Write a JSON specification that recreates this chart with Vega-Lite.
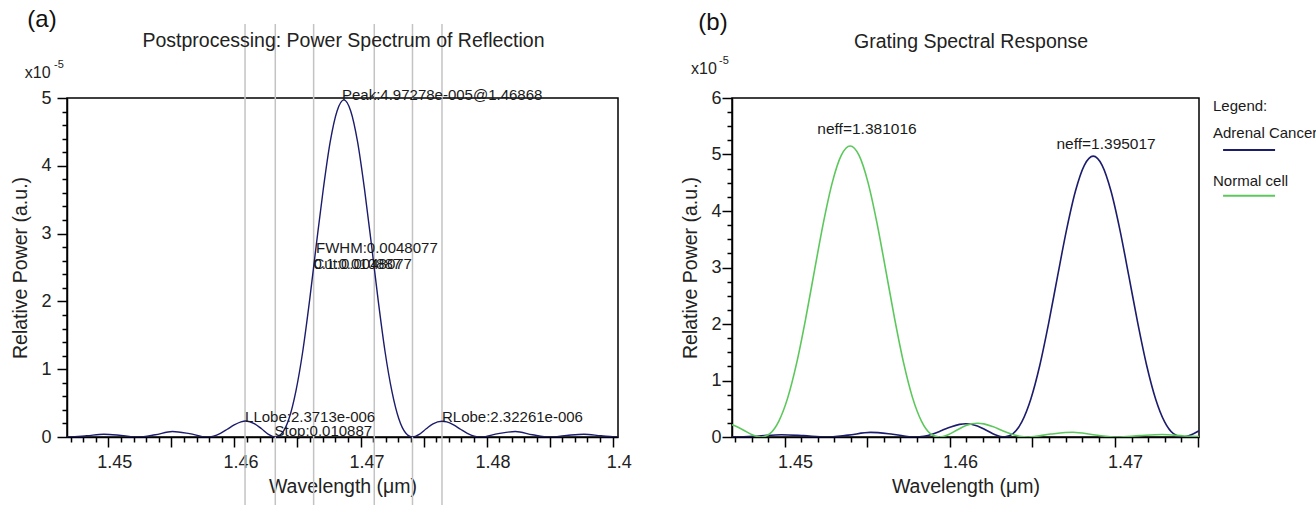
{
  "$schema": "https://vega.github.io/schema/vega-lite/v6.json",
  "background": "white",
  "padding": {"left": 10, "top": 7, "right": 0, "bottom": 0},
  "config": {
    "font": "Liberation Sans",
    "view": {"stroke": "#000000", "strokeWidth": 1.5},
    "axis": {"grid": false, "domainColor": "#000000", "domainWidth": 1.5, "tickColor": "#000000", "tickWidth": 1.5, "labelFont": "Liberation Sans", "labelFontSize": 18, "labelColor": "#222222", "titleFont": "Liberation Sans", "titleFontSize": 19.5, "titleFontWeight": "normal", "titleColor": "#222222", "labelOverlap": false, "labelFlush": false, "labelBound": false},
    "text": {"font": "Liberation Sans", "color": "#1a1a1a"}
  },
  "datasets": {
    "specA": [
      {"x":1.44583,"y":0.010},{"x":1.44692,"y":0},{"x":1.44828,"y":0.018},{"x":1.44964,"y":0.041},{"x":1.45100,"y":0.024},{"x":1.45236,"y":0},{"x":1.45372,"y":0.033},{"x":1.45508,"y":0.081},{"x":1.45644,"y":0.050},{"x":1.45780,"y":0},{"x":1.45834,"y":0.013},{"x":1.45889,"y":0.054},{"x":1.45943,"y":0.114},{"x":1.45998,"y":0.178},{"x":1.46052,"y":0.224},{"x":1.46090,"y":0.237},{"x":1.46161,"y":0.195},{"x":1.46215,"y":0.121},{"x":1.46270,"y":0.040},{"x":1.46324,"y":0},{"x":1.46378,"y":0.059},{"x":1.46433,"y":0.272},{"x":1.46487,"y":0.673},{"x":1.46542,"y":1.265},{"x":1.46596,"y":2.014},{"x":1.46650,"y":2.847},{"x":1.46705,"y":3.662},{"x":1.46759,"y":4.349},{"x":1.46814,"y":4.809},{"x":1.46868,"y":4.972},{"x":1.46922,"y":4.809},{"x":1.46977,"y":4.349},{"x":1.47031,"y":3.662},{"x":1.47086,"y":2.847},{"x":1.47140,"y":2.014},{"x":1.47194,"y":1.265},{"x":1.47249,"y":0.673},{"x":1.47303,"y":0.272},{"x":1.47358,"y":0.059},{"x":1.47412,"y":0},{"x":1.47466,"y":0.040},{"x":1.47521,"y":0.121},{"x":1.47575,"y":0.195},{"x":1.47646,"y":0.232},{"x":1.47684,"y":0.222},{"x":1.47738,"y":0.178},{"x":1.47793,"y":0.114},{"x":1.47847,"y":0.054},{"x":1.47902,"y":0.013},{"x":1.47956,"y":0},{"x":1.48092,"y":0.050},{"x":1.48228,"y":0.081},{"x":1.48364,"y":0.033},{"x":1.48500,"y":0},{"x":1.48636,"y":0.024},{"x":1.48772,"y":0.041},{"x":1.48908,"y":0.018},{"x":1.49044,"y":0},{"x":1.49153,"y":0.010}
    ],
    "markersA": [
      {"x":1.46084,"y":-1.02,"y2":6.09},{"x":1.46324,"y":-1.02,"y2":6.09},{"x":1.46628,"y":-1.02,"y2":6.09},{"x":1.47109,"y":-1.02,"y2":6.09},{"x":1.47412,"y":-1.02,"y2":6.09},{"x":1.47646,"y":-1.02,"y2":6.09}
    ],
    "annotA": [
      {"x":1.46853,"y":4.97,"label":"Peak:4.97278e-005@1.46868"},
      {"x":1.46647,"y":2.71,"label":"FWHM:0.0048077"},
      {"x":1.46627,"y":2.48,"label":"Cut:0.0048077"},
      {"x":1.46627,"y":2.48,"label":"0.1:0.010887"},
      {"x":1.46084,"y":0.22,"label":"LLobe:2.3713e-006"},
      {"x":1.46318,"y":0.015,"label":"Stop:0.010887"},
      {"x":1.47646,"y":0.22,"label":"RLobe:2.32261e-006"}
    ],
    "tagA": [{"x":1.44474,"y":6.15,"label":"(a)"}],
    "titleA": [{"x":1.46865,"y":5.84,"label":"Postprocessing: Power Spectrum of Reflection"}],
    "expBaseA": [{"x":1.4444,"y":5.37,"label":"x10"}],
    "expSupA": [{"x":1.44569,"y":5.49,"label":"-5"}],
    "specB": [
      {"x":1.44654,"y":0.003,"series":"Adrenal Cancer"},{"x":1.44708,"y":0,"series":"Adrenal Cancer"},{"x":1.44843,"y":0.018,"series":"Adrenal Cancer"},{"x":1.44978,"y":0.041,"series":"Adrenal Cancer"},{"x":1.45113,"y":0.024,"series":"Adrenal Cancer"},{"x":1.45248,"y":0,"series":"Adrenal Cancer"},{"x":1.45383,"y":0.033,"series":"Adrenal Cancer"},{"x":1.45518,"y":0.081,"series":"Adrenal Cancer"},{"x":1.45653,"y":0.050,"series":"Adrenal Cancer"},{"x":1.45788,"y":0,"series":"Adrenal Cancer"},{"x":1.45842,"y":0.013,"series":"Adrenal Cancer"},{"x":1.45896,"y":0.054,"series":"Adrenal Cancer"},{"x":1.45950,"y":0.114,"series":"Adrenal Cancer"},{"x":1.46004,"y":0.178,"series":"Adrenal Cancer"},{"x":1.46058,"y":0.224,"series":"Adrenal Cancer"},{"x":1.46096,"y":0.235,"series":"Adrenal Cancer"},{"x":1.46166,"y":0.195,"series":"Adrenal Cancer"},{"x":1.46220,"y":0.121,"series":"Adrenal Cancer"},{"x":1.46274,"y":0.040,"series":"Adrenal Cancer"},{"x":1.46328,"y":0,"series":"Adrenal Cancer"},{"x":1.46382,"y":0.059,"series":"Adrenal Cancer"},{"x":1.46436,"y":0.272,"series":"Adrenal Cancer"},{"x":1.46490,"y":0.673,"series":"Adrenal Cancer"},{"x":1.46544,"y":1.265,"series":"Adrenal Cancer"},{"x":1.46598,"y":2.014,"series":"Adrenal Cancer"},{"x":1.46652,"y":2.847,"series":"Adrenal Cancer"},{"x":1.46706,"y":3.662,"series":"Adrenal Cancer"},{"x":1.46760,"y":4.349,"series":"Adrenal Cancer"},{"x":1.46814,"y":4.809,"series":"Adrenal Cancer"},{"x":1.46868,"y":4.972,"series":"Adrenal Cancer"},{"x":1.46922,"y":4.809,"series":"Adrenal Cancer"},{"x":1.46976,"y":4.349,"series":"Adrenal Cancer"},{"x":1.47030,"y":3.662,"series":"Adrenal Cancer"},{"x":1.47084,"y":2.847,"series":"Adrenal Cancer"},{"x":1.47138,"y":2.014,"series":"Adrenal Cancer"},{"x":1.47192,"y":1.265,"series":"Adrenal Cancer"},{"x":1.47246,"y":0.673,"series":"Adrenal Cancer"},{"x":1.47300,"y":0.272,"series":"Adrenal Cancer"},{"x":1.47354,"y":0.059,"series":"Adrenal Cancer"},{"x":1.47408,"y":0,"series":"Adrenal Cancer"},{"x":1.47462,"y":0.040,"series":"Adrenal Cancer"},{"x":1.47516,"y":0.121,"series":"Adrenal Cancer"},{"x":1.47570,"y":0.195,"series":"Adrenal Cancer"},
      {"x":1.44666,"y":0.227,"series":"Normal cell"},{"x":1.44693,"y":0.202,"series":"Normal cell"},{"x":1.44747,"y":0.125,"series":"Normal cell"},{"x":1.44801,"y":0.041,"series":"Normal cell"},{"x":1.44855,"y":0,"series":"Normal cell"},{"x":1.44909,"y":0.061,"series":"Normal cell"},{"x":1.44963,"y":0.282,"series":"Normal cell"},{"x":1.45017,"y":0.697,"series":"Normal cell"},{"x":1.45071,"y":1.311,"series":"Normal cell"},{"x":1.45125,"y":2.087,"series":"Normal cell"},{"x":1.45179,"y":2.950,"series":"Normal cell"},{"x":1.45233,"y":3.795,"series":"Normal cell"},{"x":1.45287,"y":4.507,"series":"Normal cell"},{"x":1.45341,"y":4.983,"series":"Normal cell"},{"x":1.45395,"y":5.150,"series":"Normal cell"},{"x":1.45449,"y":4.983,"series":"Normal cell"},{"x":1.45503,"y":4.507,"series":"Normal cell"},{"x":1.45557,"y":3.795,"series":"Normal cell"},{"x":1.45611,"y":2.950,"series":"Normal cell"},{"x":1.45665,"y":2.087,"series":"Normal cell"},{"x":1.45719,"y":1.311,"series":"Normal cell"},{"x":1.45773,"y":0.697,"series":"Normal cell"},{"x":1.45827,"y":0.282,"series":"Normal cell"},{"x":1.45881,"y":0.061,"series":"Normal cell"},{"x":1.45935,"y":0,"series":"Normal cell"},{"x":1.45989,"y":0.041,"series":"Normal cell"},{"x":1.46043,"y":0.125,"series":"Normal cell"},{"x":1.46097,"y":0.202,"series":"Normal cell"},{"x":1.46167,"y":0.243,"series":"Normal cell"},{"x":1.46205,"y":0.232,"series":"Normal cell"},{"x":1.46259,"y":0.184,"series":"Normal cell"},{"x":1.46313,"y":0.118,"series":"Normal cell"},{"x":1.46367,"y":0.056,"series":"Normal cell"},{"x":1.46421,"y":0.014,"series":"Normal cell"},{"x":1.46475,"y":0,"series":"Normal cell"},{"x":1.46610,"y":0.052,"series":"Normal cell"},{"x":1.46745,"y":0.083,"series":"Normal cell"},{"x":1.46880,"y":0.035,"series":"Normal cell"},{"x":1.47015,"y":0,"series":"Normal cell"},{"x":1.47150,"y":0.025,"series":"Normal cell"},{"x":1.47285,"y":0.043,"series":"Normal cell"},{"x":1.47420,"y":0.019,"series":"Normal cell"},{"x":1.47555,"y":0,"series":"Normal cell"}
    ],
    "neffB": [
      {"x":1.45497,"y":5.45,"label":"neff=1.381016"},
      {"x":1.46946,"y":5.19,"label":"neff=1.395017"}
    ],
    "legTextB": [
      {"x":1.47594,"y":5.86,"label":"Legend:"},
      {"x":1.47594,"y":5.38,"label":"Adrenal Cancer"},
      {"x":1.47594,"y":4.53,"label":"Normal cell"}
    ],
    "legLineB": [
      {"x":1.47655,"x2":1.4797,"y":5.08,"series":"Adrenal Cancer"},
      {"x":1.47655,"x2":1.4797,"y":4.27,"series":"Normal cell"}
    ],
    "tagB": [{"x":1.44564,"y":7.33,"label":"(b)"}],
    "titleB": [{"x":1.46128,"y":6.99,"label":"Grating Spectral Response"}],
    "expBaseB": [{"x":1.44509,"y":6.51,"label":"x10"}],
    "expSupB": [{"x":1.446,"y":6.65,"label":"-5"}]
  },
  "bounds": "flush",
  "spacing": 114,
  "hconcat": [
    {
      "width": 551,
      "height": 339,
      "encoding": {
        "x": {"field": "x", "type": "quantitative",
          "scale": {"domain": [1.44672, 1.49042], "nice": false, "zero": false},
          "axis": {"title": "Wavelength (μm)",
            "values": [1.447,1.448,1.449,1.45,1.451,1.452,1.453,1.454,1.455,1.456,1.457,1.458,1.459,1.46,1.461,1.462,1.463,1.464,1.465,1.466,1.467,1.468,1.469,1.47,1.471,1.472,1.473,1.474,1.475,1.476,1.477,1.478,1.479,1.48,1.481,1.482,1.483,1.484,1.485,1.486,1.487,1.488,1.489,1.49],
            "labelExpr": "abs(datum.value*100 - round(datum.value*100)) < 0.01 ? (datum.value > 1.485 ? '1.4' : format(datum.value, '.2f')) : ''",
            "tickSize": {"condition": {"test": "abs(datum.value*200 - round(datum.value*200)) < 0.01", "value": 10}, "value": 5},
            "labelOffset": 6, "labelPadding": 6, "titlePadding": 6}},
        "y": {"field": "y", "type": "quantitative",
          "scale": {"domain": [0, 5], "nice": false},
          "axis": {"title": "Relative Power (a.u.)",
            "values": [0,0.2,0.4,0.6,0.8,1,1.2,1.4,1.6,1.8,2,2.2,2.4,2.6,2.8,3,3.2,3.4,3.6,3.8,4,4.2,4.4,4.6,4.8,5],
            "labelExpr": "abs(datum.value - round(datum.value)) < 0.01 ? format(datum.value, 'd') : ''",
            "tickSize": {"condition": {"test": "abs(datum.value - round(datum.value)) < 0.01", "value": 10}, "value": 5},
            "labelPadding": 6, "titlePadding": 10}}
      },
      "layer": [
        {"data": {"name": "markersA"}, "mark": {"type": "rule", "color": "#c3c3c3", "strokeWidth": 1.5, "clip": false}, "encoding": {"y2": {"field": "y2"}}},
        {"data": {"name": "specA"}, "mark": {"type": "line", "color": "#1c1c6c", "strokeWidth": 1.4, "interpolate": "monotone", "clip": true}},
        {"data": {"name": "annotA"}, "mark": {"type": "text", "align": "left", "baseline": "alphabetic", "fontSize": 15, "clip": false}, "encoding": {"text": {"field": "label"}}},
        {"data": {"name": "tagA"}, "mark": {"type": "text", "align": "center", "baseline": "middle", "fontSize": 24, "color": "#111111", "clip": false}, "encoding": {"text": {"field": "label"}}},
        {"data": {"name": "titleA"}, "mark": {"type": "text", "align": "center", "baseline": "middle", "fontSize": 19.5, "color": "#222222", "clip": false}, "encoding": {"text": {"field": "label"}}},
        {"data": {"name": "expBaseA"}, "mark": {"type": "text", "align": "center", "baseline": "middle", "fontSize": 16, "color": "#222222", "clip": false}, "encoding": {"text": {"field": "label"}}},
        {"data": {"name": "expSupA"}, "mark": {"type": "text", "align": "left", "baseline": "middle", "fontSize": 11, "color": "#222222", "clip": false}, "encoding": {"text": {"field": "label"}}}
      ]
    },
    {
      "width": 467,
      "height": 339,
      "encoding": {
        "x": {"field": "x", "type": "quantitative",
          "scale": {"domain": [1.44679, 1.47509], "nice": false, "zero": false},
          "axis": {"title": "Wavelength (μm)",
            "values": [1.447,1.448,1.449,1.45,1.451,1.452,1.453,1.454,1.455,1.456,1.457,1.458,1.459,1.46,1.461,1.462,1.463,1.464,1.465,1.466,1.467,1.468,1.469,1.47,1.471,1.472,1.473,1.474,1.475],
            "labelExpr": "abs(datum.value*100 - round(datum.value*100)) < 0.01 ? format(datum.value, '.2f') : ''",
            "tickSize": {"condition": {"test": "abs(datum.value*200 - round(datum.value*200)) < 0.01", "value": 10}, "value": 5},
            "labelOffset": 10, "labelPadding": 6, "titlePadding": 6}},
        "y": {"field": "y", "type": "quantitative",
          "scale": {"domain": [0, 6], "nice": false},
          "axis": {"title": "Relative Power (a.u.)",
            "values": [0,0.25,0.5,0.75,1,1.25,1.5,1.75,2,2.25,2.5,2.75,3,3.25,3.5,3.75,4,4.25,4.5,4.75,5,5.25,5.5,5.75,6],
            "labelExpr": "abs(datum.value - round(datum.value)) < 0.01 ? format(datum.value, 'd') : ''",
            "tickSize": {"condition": {"test": "abs(datum.value - round(datum.value)) < 0.01", "value": 10}, "value": 5},
            "labelPadding": 1, "titlePadding": 10}}
      },
      "layer": [
        {"data": {"name": "specB"}, "mark": {"type": "line", "strokeWidth": 1.6, "interpolate": "monotone", "clip": true},
          "encoding": {"color": {"field": "series", "type": "nominal", "scale": {"domain": ["Adrenal Cancer", "Normal cell"], "range": ["#1c1c6c", "#5cc85c"]}, "legend": null}}},
        {"data": {"name": "neffB"}, "mark": {"type": "text", "align": "center", "baseline": "middle", "fontSize": 15.5, "clip": false}, "encoding": {"text": {"field": "label"}}},
        {"data": {"name": "legTextB"}, "mark": {"type": "text", "align": "left", "baseline": "middle", "fontSize": 15, "clip": false}, "encoding": {"text": {"field": "label"}}},
        {"data": {"name": "legLineB"}, "mark": {"type": "rule", "strokeWidth": 2, "clip": false},
          "encoding": {"x2": {"field": "x2"}, "color": {"field": "series", "type": "nominal", "scale": {"domain": ["Adrenal Cancer", "Normal cell"], "range": ["#1c1c6c", "#5cc85c"]}, "legend": null}}},
        {"data": {"name": "tagB"}, "mark": {"type": "text", "align": "center", "baseline": "middle", "fontSize": 24, "color": "#111111", "clip": false}, "encoding": {"text": {"field": "label"}}},
        {"data": {"name": "titleB"}, "mark": {"type": "text", "align": "center", "baseline": "middle", "fontSize": 19.5, "color": "#222222", "clip": false}, "encoding": {"text": {"field": "label"}}},
        {"data": {"name": "expBaseB"}, "mark": {"type": "text", "align": "center", "baseline": "middle", "fontSize": 16, "color": "#222222", "clip": false}, "encoding": {"text": {"field": "label"}}},
        {"data": {"name": "expSupB"}, "mark": {"type": "text", "align": "left", "baseline": "middle", "fontSize": 11, "color": "#222222", "clip": false}, "encoding": {"text": {"field": "label"}}}
      ]
    }
  ]
}
